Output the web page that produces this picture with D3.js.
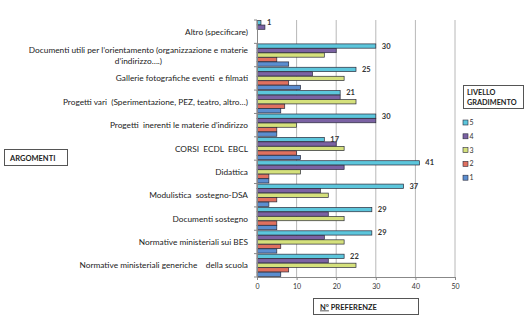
<!DOCTYPE html>
<html><head><meta charset="utf-8">
<script src="https://cdn.jsdelivr.net/npm/d3@7"></script>
<style>
html,body{margin:0;padding:0;background:#fff;}
svg{display:block;font-family:Lato, "Open Sans", sans-serif;}
text{white-space:pre;}
</style></head>
<body>
<svg id="chart" width="528" height="326"></svg>
<script>
const categories = [
  "Altro (specificare)",
  "Documenti utili per l’orientamento (organizzazione e materie|d’indirizzo….)",
  "Gallerie fotografiche eventi  e filmati",
  "Progetti vari  (Sperimentazione, PEZ, teatro, altro…)",
  "Progetti  inerenti le materie d’indirizzo",
  "CORSI  ECDL  EBCL",
  "Didattica",
  "Modulistica  sostegno-DSA",
  "Documenti sostegno",
  "Normative ministeriali sui BES",
  "Normative ministeriali generiche    della scuola"
];
const seriesNames = ["5","4","3","2","1"];
const s5 = [1,30,25,21,30,17,41,37,29,29,22];
const s4 = [2,20,14,21,30,20,22,16,18,17,18];
const s3 = [0,17,22,25,10,22,11,18,22,22,25];
const s2 = [0,5,8,7,5,10,3,5,5,6,8];
const s1 = [0,8,11,6,5,11,3,3,5,5,6];
const xTicks = [0,10,20,30,40,50];
const colors = ["#5cc6dc","#7b62a3","#d5e17c","#e0705f","#5b8ed0"];

const svg = d3.select("#chart");
const series = [s5,s4,s3,s2,s1];

const x = d3.scaleLinear().domain([0,50]).range([257,455]);
const y = d3.scaleBand().domain(categories).range([20,277]);
const inner = d3.scaleBand().domain(seriesNames).range([0, y.bandwidth()]).paddingOuter(0.12).paddingInner(0.05);

// gridlines
svg.append("g").selectAll("line").data(xTicks.slice(1)).join("line")
  .attr("x1", d=>x(d)).attr("x2", d=>x(d)).attr("y1",20).attr("y2",277)
  .attr("stroke","#b8b8b8").attr("stroke-width",1);

// bars
categories.forEach((c,i)=>{
  const g = svg.append("g");
  g.selectAll("rect").data(series.map((s,k)=>({k, v:s[i]}))).join("rect")
    .attr("x", x(0))
    .attr("y", d=> y(c)+inner(seriesNames[d.k]))
    .attr("width", d=> Math.max(0, x(d.v)-x(0)))
    .attr("height", inner.bandwidth())
    .attr("fill", d=>colors[d.k])
    .attr("stroke", d=> d.v>0 ? "#2a2a3a" : "none")
    .attr("stroke-width",0.7);
  // value label for series 5
  svg.append("text")
    .attr("x", x(s5[i]) + 6)
    .attr("y", y(c)+inner("5")+inner.bandwidth()/2+2.5)
    .attr("font-size",7.5).attr("font-weight","bold").attr("fill","#333")
    .text(s5[i]);
});

// y axis
const yAxis = d3.axisLeft(y).tickSize(0).tickFormat("");
svg.append("g").attr("transform",`translate(${x(0)},0)`).call(yAxis)
  .call(g=>g.select(".domain").attr("stroke","#888"));
svg.append("g").selectAll("line").data(d3.range(categories.length+1)).join("line")
  .attr("x1",x(0)-3).attr("x2",x(0)).attr("y1",d=>20+d*y.step()).attr("y2",d=>20+d*y.step())
  .attr("stroke","#888");

// x axis
const xAxis = d3.axisBottom(x).tickValues(xTicks).tickSize(3).tickSizeOuter(0);
svg.append("g").attr("transform","translate(0,277)").call(xAxis)
  .call(g=>{g.select(".domain").attr("stroke","#888");
    g.selectAll(".tick line").attr("stroke","#888");
    g.selectAll("text").attr("font-size",7).attr("fill","#333").attr("font-family","Lato, sans-serif").attr("dy","0.9em");});

// category labels
const labG = svg.append("g").attr("font-size",8.3).attr("fill","#222");
categories.forEach(c=>{
  const parts = c.split("|");
  const cy = y(c)+y.bandwidth()/2;
  if(parts.length===1){
    labG.append("text").attr("x",248).attr("y",cy+3).attr("text-anchor","end").text(c);
  } else {
    const t1 = labG.append("text").attr("x",248).attr("y",cy-2.5).attr("text-anchor","end").text(parts[0]);
    const w = t1.node().getComputedTextLength();
    labG.append("text").attr("x",248-w/2).attr("y",cy+8.5).attr("text-anchor","middle").text(parts[1]);
  }
});

// ARGOMENTI box
svg.append("rect").attr("x",4.5).attr("y",149.5).attr("width",63).attr("height",16)
  .attr("fill","#fff").attr("stroke","#555");
svg.append("text").attr("x",10).attr("y",160.5).attr("font-size",7.5).attr("font-weight","bold").attr("fill","#222").text("ARGOMENTI");

// N° PREFERENZE box
svg.append("rect").attr("x",313.5).attr("y",298.5).attr("width",105).attr("height",16)
  .attr("fill","#fff").attr("stroke","#555");
const np = svg.append("text").attr("x",320).attr("y",309.5).attr("font-size",7.5).attr("font-weight","bold").attr("fill","#222");
np.append("tspan").attr("text-decoration","underline").text("N°");
np.append("tspan").text(" PREFERENZE");

// legend
svg.append("rect").attr("x",463.5).attr("y",85.5).attr("width",60).attr("height",23)
  .attr("fill","#fff").attr("stroke","#555");
svg.append("text").attr("x",467).attr("y",95).attr("font-size",7.3).attr("font-weight","bold").attr("fill","#222").text("LIVELLO");
svg.append("text").attr("x",467).attr("y",105).attr("font-size",7.3).attr("font-weight","bold").attr("fill","#222").text("GRADIMENTO");
const leg = svg.append("g").selectAll("g").data(seriesNames).join("g")
  .attr("transform",(d,i)=>`translate(463,${123+i*13.8})`);
leg.append("rect").attr("x",0).attr("y",-3).attr("width",5).attr("height",5)
  .attr("fill",(d,i)=>colors[i]).attr("stroke","#2a2a3a").attr("stroke-width",0.6);
leg.append("text").attr("x",6.5).attr("y",2).attr("font-size",7).attr("fill","#333").text(d=>d);
</script>
</body></html>
